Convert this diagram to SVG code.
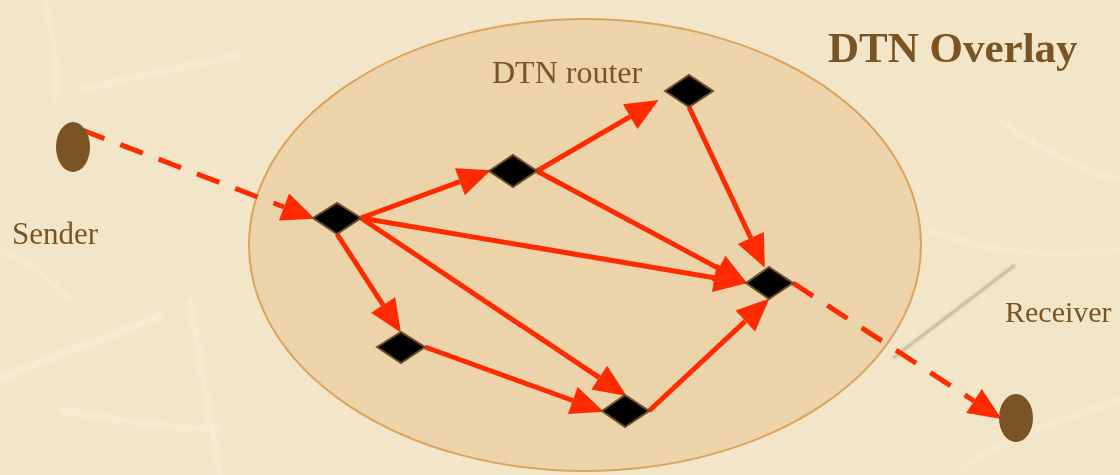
<svg xmlns="http://www.w3.org/2000/svg" width="1120" height="475" viewBox="0 0 1120 475">
  <defs>
    <style>
      .label { font-family: "Liberation Serif", "Times New Roman", serif; fill: #7A5424; }
      .title { font-size: 43px; font-weight: bold; }
      .small { font-size: 30px; }
      .link { stroke: #FF2A00; stroke-width: 5; fill: none; marker-end: url(#head); }
      .dashed { stroke-dasharray: 24 17; }
      .router { fill: #000000; stroke: #6E5226; stroke-width: 2; }
      .host { fill: #7A5424; }
      .fiber { fill: none; stroke: #FBF3E2; stroke-linecap: round; opacity: 0.6; }
    </style>
    <marker id="head" markerUnits="userSpaceOnUse" markerWidth="34" markerHeight="30" refX="0" refY="0" viewBox="0 -14 32 28" orient="auto" overflow="visible">
      <path d="M0,-13.5 L31,0 L0,13.5 z" fill="#FF2A00"/>
    </marker>
    <filter id="soft" x="-10%" y="-10%" width="120%" height="120%">
      <feGaussianBlur stdDeviation="2"/>
    </filter>
    <filter id="softer" x="-10%" y="-10%" width="120%" height="120%">
      <feGaussianBlur stdDeviation="1"/>
    </filter>
  </defs>

  <!-- parchment background -->
  <rect x="0" y="0" width="1120" height="475" fill="#F3E5C7"/>
  <g id="paper-fibers" filter="url(#soft)">
    <path class="fiber" stroke-width="5" d="M0,380 C60,350 110,340 160,315"/>
    <path class="fiber" stroke-width="4" d="M60,410 C120,420 170,430 220,428"/>
    <path class="fiber" stroke-width="4" d="M80,90 C120,80 170,70 240,55"/>
    <path class="fiber" stroke-width="3" d="M55,100 C60,60 50,30 45,0"/>
    <path class="fiber" stroke-width="4" d="M190,300 C200,360 210,420 220,475"/>
    <path class="fiber" stroke-width="3" d="M930,230 C980,250 1040,260 1120,250"/>
    <path class="fiber" stroke-width="4" d="M1000,120 C1040,150 1080,170 1120,180"/>
    <path class="fiber" stroke-width="3" d="M960,470 C1000,440 1060,420 1120,400"/>
    <path class="fiber" stroke-width="3" d="M0,250 C30,260 50,280 70,300"/>
  </g>
  <line x1="893" y1="358" x2="1015" y2="265" stroke="#9C9886" stroke-width="2.5" opacity="0.7" filter="url(#softer)"/>

  <!-- overlay region -->
  <g id="overlay">
    <ellipse cx="585" cy="245" rx="336" ry="226" fill="#ECD2A6" stroke="#D99E52" stroke-width="2" opacity="0.92"/>
  </g>

  <!-- labels -->
  <text class="label title" x="828" y="62">DTN Overlay</text>
  <text class="label small" x="492" y="83" style="font-size:32px">DTN router</text>
  <text class="label small" x="12" y="244" style="font-size:31px">Sender</text>
  <text class="label small" x="1005" y="322">Receiver</text>

  <!-- connectors -->
  <g id="connectors">
    <line class="link dashed" x1="82" y1="130" x2="284" y2="207"/>
    <line class="link" x1="361" y1="218" x2="459.9" y2="181.7"/>
    <line class="link" x1="537" y1="171" x2="630.2" y2="116.6"/>
    <line class="link" x1="689" y1="107" x2="750.8" y2="238"/>
    <line class="link" x1="537" y1="171" x2="718.7" y2="268.4"/>
    <line class="link" x1="361" y1="218" x2="714.4" y2="277.8"/>
    <line class="link" x1="337" y1="234" x2="383.1" y2="305"/>
    <line class="link" x1="361" y1="218" x2="599.3" y2="377.7"/>
    <line class="link" x1="425" y1="347" x2="572.8" y2="400.5"/>
    <line class="link" x1="649" y1="411" x2="745.3" y2="321.1"/>
    <line class="link dashed" x1="793" y1="283" x2="974" y2="401"/>
  </g>

  <!-- end hosts -->
  <g id="sender">
    <ellipse class="host" cx="73" cy="147" rx="17" ry="25"/>
  </g>
  <g id="receiver">
    <ellipse class="host" cx="1016" cy="418" rx="17" ry="24"/>
  </g>

  <!-- DTN routers -->
  <g id="router-a"><polygon class="router" points="313,218 337,203 361,218 337,234"/></g>
  <g id="router-b"><polygon class="router" points="489,171 513,155 537,171 513,187"/></g>
  <g id="router-c"><polygon class="router" points="665,91 689,75 713,91 689,107"/></g>
  <g id="router-d"><polygon class="router" points="746,283 769,267 793,283 769,299"/></g>
  <g id="router-e"><polygon class="router" points="377,347 401,332 425,347 401,363"/></g>
  <g id="router-f"><polygon class="router" points="602,411 625,395 649,411 625,427"/></g>
</svg>
